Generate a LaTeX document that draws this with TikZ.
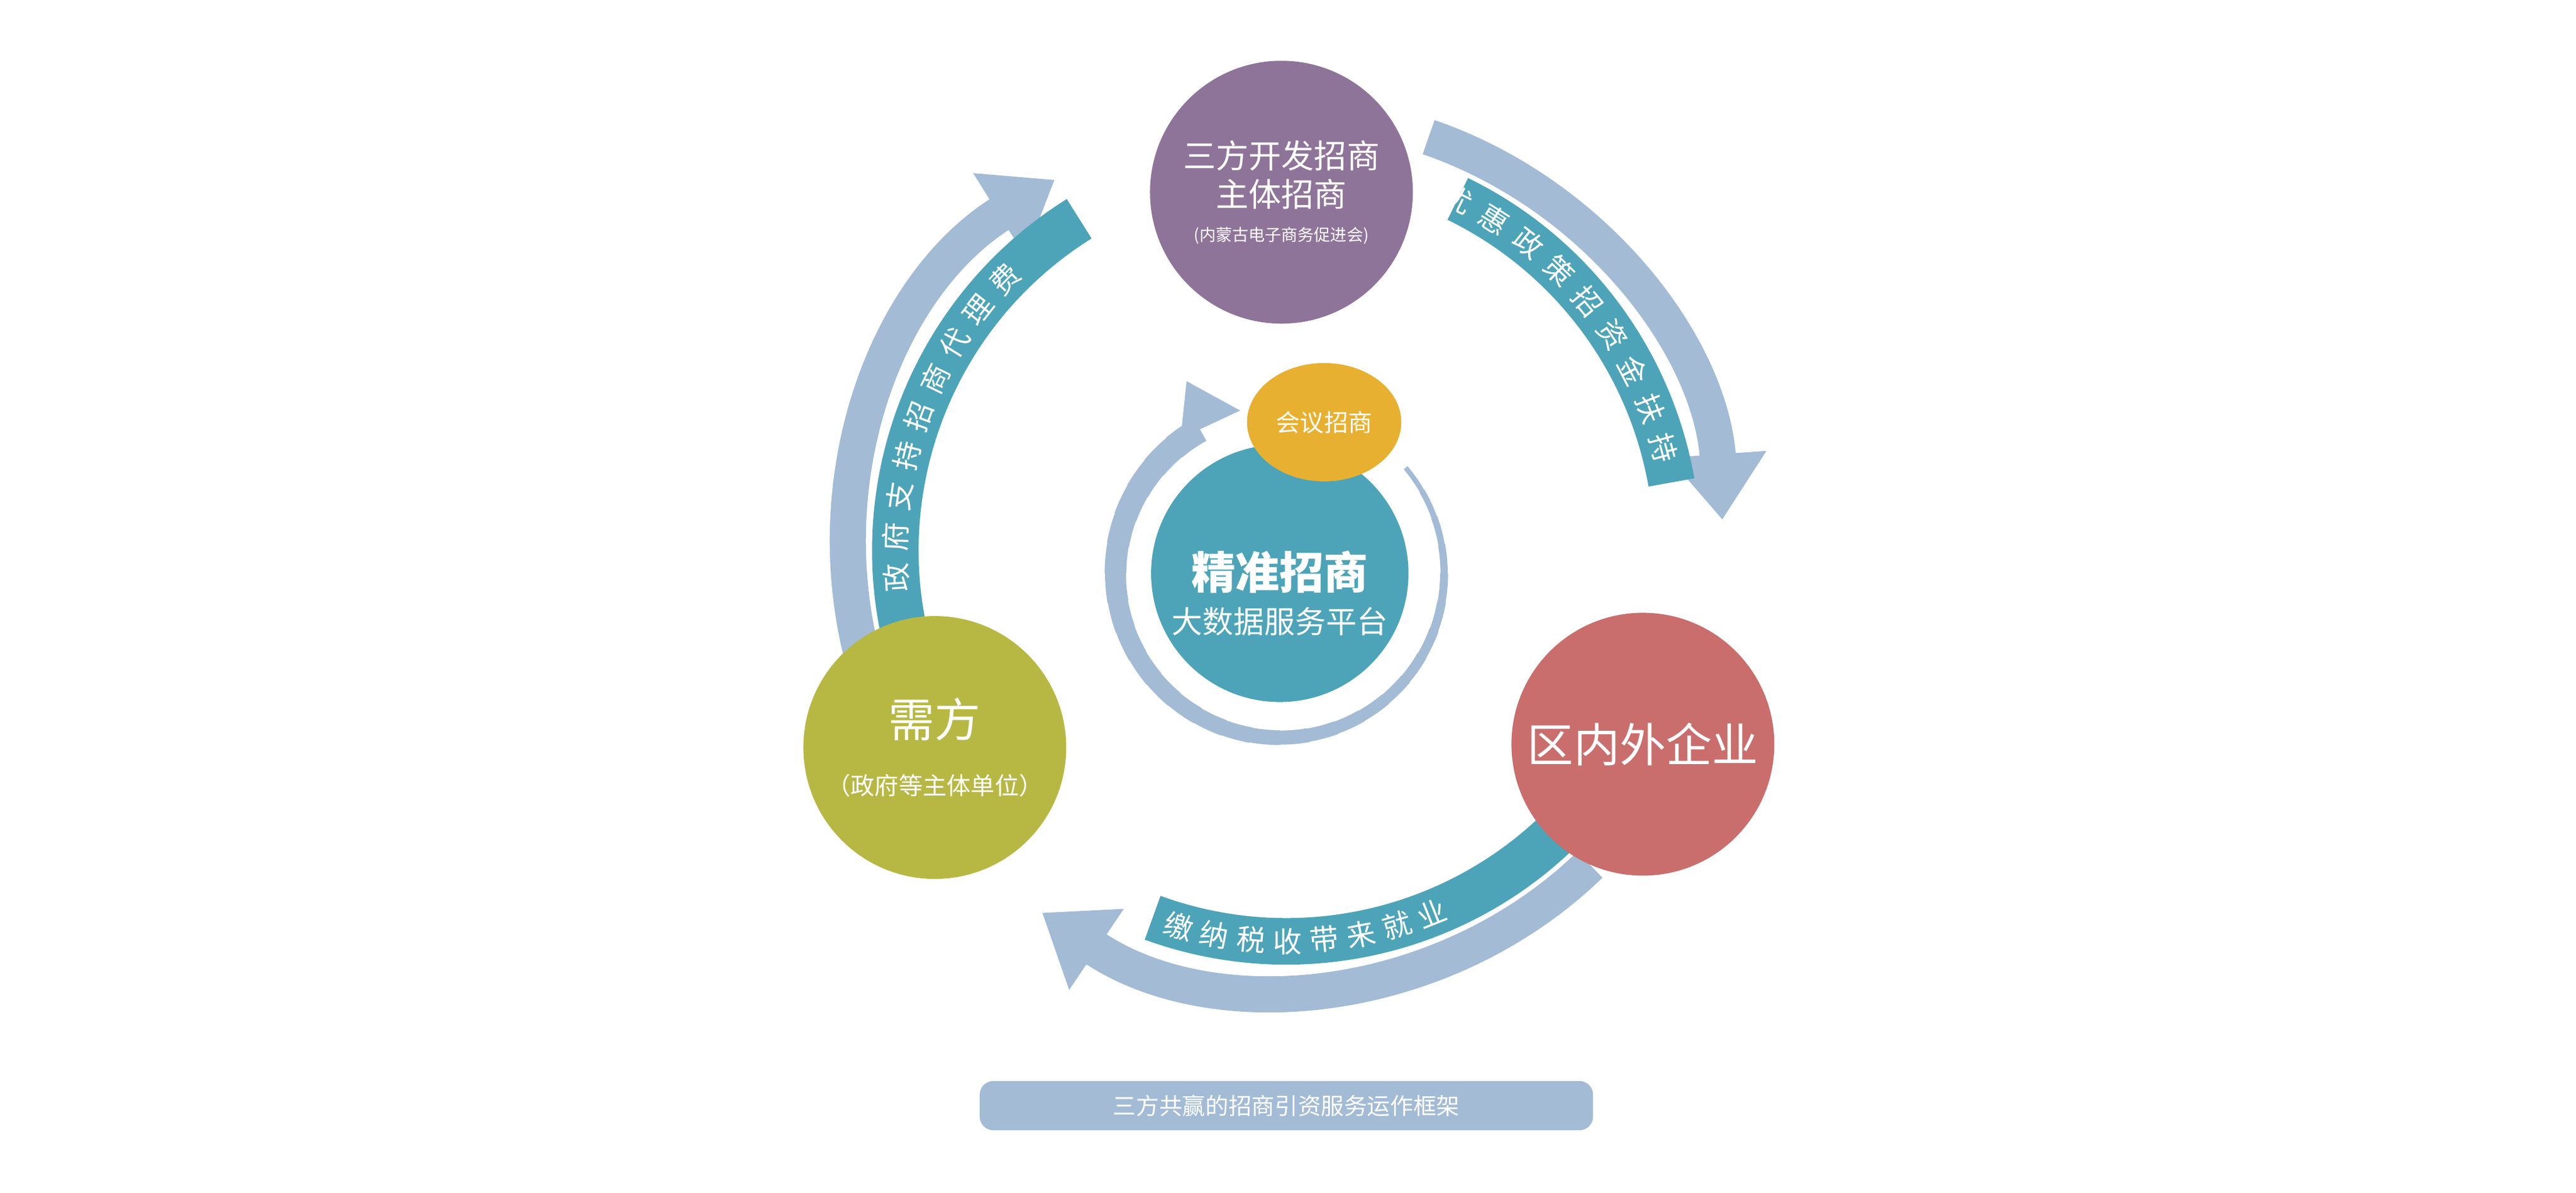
\documentclass[tikz,border=0pt]{standalone}
\usepackage{fontspec}
\setmainfont{Noto Sans CJK SC}
\usetikzlibrary{arrows.meta,calc,shapes.geometric}
\definecolor{purpleC}{HTML}{8F7499}
\definecolor{greenC}{HTML}{B7B844}
\definecolor{redC}{HTML}{C96E6D}
\definecolor{tealC}{HTML}{4DA4B8}
\definecolor{orangeC}{HTML}{E8B030}
\definecolor{paleC}{HTML}{A3BBD5}
\begin{document}
\begin{tikzpicture}[x=0.3mm, y=0.3mm,
    party/.style = {circle, minimum size=48mm, inner sep=0pt, align=center, text=white},
    paleband/.style = {draw=paleC, line width=6.6mm, -{Triangle[width=17mm, length=12mm]}},
    tealband/.style = {draw=tealC, line width=8.5mm},
    bandtext/.style = {text=white, font=\fontsize{15pt}{16}\selectfont, inner sep=0pt}]
  \useasboundingbox (0,0) rectangle (1568,726);

  % Centre of the outer cycle.
  \coordinate (hub) at (783,391);

  % Outer cycle: pale arrows with teal bands.
  \draw [paleband] ($(hub)+(205:266)$) arc [start angle=205, end angle=122, radius=266];
  \draw [paleband] ($(hub)+(71:266)$) arc [start angle=71, end angle=4, radius=266];
  \draw [paleband] ($(hub)+(-46:266)$) arc [start angle=-46, end angle=-124, radius=266];
  \draw [tealband] ($(hub)+(200:238)$) arc [start angle=200, end angle=122, radius=238];
  \draw [tealband] ($(hub)+(64:238)$) arc [start angle=64, end angle=10, radius=238];
  \draw [tealband] ($(hub)+(-40:238)$) arc [start angle=-40, end angle=-110, radius=238];

  % Band labels.
  \foreach \ch [count=\i, evaluate=\i as \t using 184-6*(\i-1), evaluate=\i as \r using 94-6*(\i-1)]
      in {政,府,支,持,招,商,代,理,费}
    \node [bandtext, rotate=\r] at ($(hub)+(\t:238)$) {\ch};
  \foreach \ch [count=\i, evaluate=\i as \t using 64-6.1*(\i-1), evaluate=\i as \r using -26-6.1*(\i-1)]
      in {优,惠,政,策,招,资,金,扶,持}
    \node [bandtext, rotate=\r] at ($(hub)+(\t:238)$) {\ch};
  \foreach \ch [count=\i, evaluate=\i as \t using 254+5.4*(\i-1), evaluate=\i as \r using -16+5.4*(\i-1)]
      in {缴,纳,税,收,带,来,就,业}
    \node [bandtext, rotate=\r] at ($(hub)+(\t:238)$) {\ch};

  % Inner ring around the platform.
  \coordinate (core) at (779,377);
  \foreach \a [evaluate=\a as \w using (3+(40-\a)/280*13)*0.3, evaluate=\a as \b using \a-11]
      in {40,30,...,-230}
    \draw [paleC, line width=\w mm]
      ($(core)+(\a:100)$) arc [start angle=\a, end angle=\b, radius=100];
  \fill [paleC] ($(core)+(115:100)+(25:20)$) -- ($(core)+(115:100)+(205:20)$)
                -- ($(core)+(115:100)+(25:-2)+(-65:-30)$) -- cycle;

  % Parties.
  \node at (780,609) [party, fill=purpleC, name=Developer,
    font=\fontsize{17pt}{20}\selectfont]
    {三方开发招商\\主体招商\\[-2pt]\fontsize{8.5pt}{10}\selectfont (内蒙古电子商务促进会)};
  \node at (569,271) [party, fill=greenC, name=Demand,
    font=\fontsize{24pt}{28}\selectfont]
    {需方\\[2pt]\fontsize{12.5pt}{14}\selectfont （政府等主体单位）};
  \node at (1000,273) [party, fill=redC, name=Enterprise,
    font=\fontsize{24pt}{28}\selectfont] {区内外企业};
  \node at (779,377) [party, minimum size=47mm, fill=tealC, name=Platform] {};
  \node at (779,365) [align=center, text=white, font=\fontsize{23pt}{26}\selectfont\bfseries, name=PlatformText]
    {精准招商\\[-3pt]\mdseries\fontsize{16pt}{18}\selectfont 大数据服务平台};
  \node at (806,469) [ellipse, minimum width=27.6mm, minimum height=21.6mm, fill=orangeC, text=white,
    font=\fontsize{12.5pt}{14}\selectfont, name=Meeting] {会议招商};

  % Caption.
  \node at (783,53) [rectangle, rounded corners=2.5mm, fill=paleC, minimum width=112mm, minimum height=9mm,
    text=white, font=\fontsize{12pt}{14}\selectfont, name=Caption] {三方共赢的招商引资服务运作框架};
\end{tikzpicture}
\end{document}
